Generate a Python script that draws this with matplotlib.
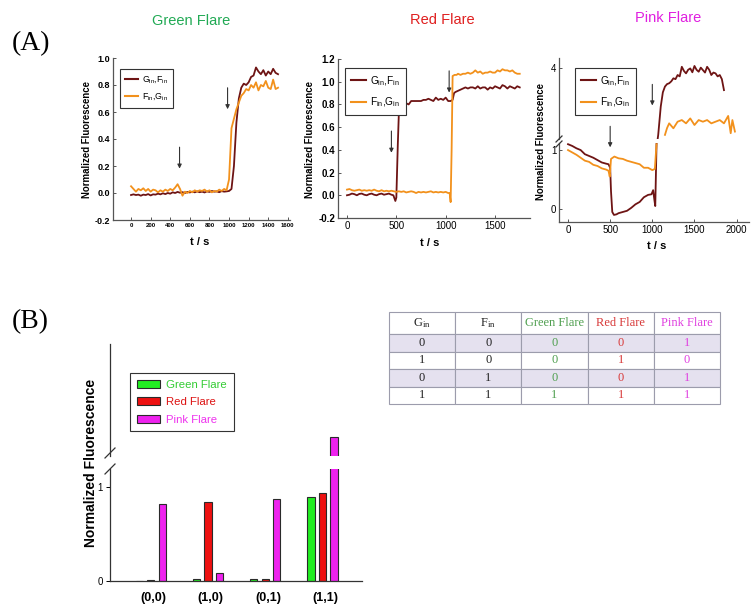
import matplotlib
matplotlib.use('Agg')
import matplotlib.pyplot as plt
from matplotlib.lines import Line2D
from matplotlib.patches import Patch

plt.rcParams['font.family'] = ['Liberation Sans', 'DejaVu Sans']
plt.rcParams['mathtext.default'] = 'regular'

# ---------------- data ----------------
# (A) Green Flare traces
green_t = [0, 25, 50, 75, 100, 125, 150, 175, 200, 225, 250, 275, 300, 325, 350, 375, 400, 425, 450, 475,
           500, 525, 550, 575, 600, 625, 650, 675, 700, 725, 750, 775, 800, 825, 850, 875, 900, 925, 950, 975,
           1000, 1025, 1050, 1075, 1100, 1125, 1150, 1175, 1200, 1225, 1250, 1275, 1300, 1325, 1350, 1375,
           1400, 1425, 1450, 1475, 1500]
green_gf = [-0.015, -0.01, -0.015, -0.012, -0.02, -0.012, -0.015, -0.008, -0.018, -0.01, -0.012, -0.005,
            -0.01, -0.002, -0.008, 0.0, -0.005, 0.005, 0.0, 0.008, 0.002, 0.006, 0.0, 0.008, 0.004, 0.01,
            0.005, 0.012, 0.006, 0.01, 0.004, 0.012, 0.008, 0.015, 0.01, 0.012, 0.006, 0.014, 0.01, 0.012,
            0.015, 0.03, 0.2, 0.52, 0.7, 0.78, 0.81, 0.8, 0.82, 0.86, 0.87, 0.93, 0.9, 0.88, 0.91, 0.87,
            0.9, 0.88, 0.92, 0.89, 0.88]
green_fg = [0.05, 0.03, 0.01, 0.03, 0.02, 0.035, 0.015, 0.03, 0.01, 0.025, 0.02, 0.005, 0.02, 0.01, 0.025,
            0.015, 0.03, 0.02, 0.04, 0.065, 0.03, -0.02, 0.01, 0.0, 0.015, 0.005, 0.02, 0.01, 0.02, 0.015,
            0.025, 0.01, 0.02, 0.005, 0.015, 0.01, 0.025, 0.015, 0.03, 0.02, 0.1, 0.48, 0.55, 0.62, 0.67,
            0.72, 0.74, 0.77, 0.76, 0.8, 0.78, 0.82, 0.76, 0.8, 0.79, 0.83, 0.78, 0.77, 0.84, 0.77, 0.78]

# (A) Red Flare traces
red_t_gf = [0, 25, 50, 75, 100, 125, 150, 175, 200, 225, 250, 275, 300, 325, 350, 375, 400, 425, 450, 470,
            490, 500, 515, 530, 550, 575, 600, 625, 650, 675, 700, 725, 750, 775, 800, 825, 850, 875, 900,
            925, 950, 975, 1000, 1025, 1050, 1070, 1085, 1100, 1125, 1150, 1175, 1200, 1225, 1250, 1275,
            1300, 1325, 1350, 1375, 1400, 1425, 1450, 1475, 1500, 1525, 1550, 1575, 1600, 1625, 1650, 1675,
            1700, 1725, 1750]
red_gf = [0.0, 0.005, 0.015, 0.01, 0.0, 0.012, 0.015, 0.005, 0.0, 0.01, 0.015, 0.005, 0.0, 0.01, 0.015,
          0.005, 0.01, 0.015, 0.005, 0.0, -0.05, -0.02, 0.45, 0.84, 0.8, 0.81, 0.81, 0.8, 0.83, 0.83, 0.83,
          0.83, 0.83, 0.84, 0.84, 0.85, 0.84, 0.83, 0.86, 0.84, 0.85, 0.84, 0.86, 0.83, 0.83, 0.84, 0.9,
          0.91, 0.92, 0.93, 0.94, 0.95, 0.94, 0.95, 0.95, 0.94, 0.96, 0.94, 0.95, 0.95, 0.93, 0.95, 0.94,
          0.96, 0.95, 0.94, 0.97, 0.96, 0.94, 0.96, 0.95, 0.94, 0.96, 0.95]
red_t_fg = [0, 25, 50, 75, 100, 125, 150, 175, 200, 225, 250, 275, 300, 325, 350, 375, 400, 425, 450, 475,
            500, 525, 550, 575, 600, 625, 650, 675, 700, 725, 750, 775, 800, 825, 850, 875, 900, 925, 950,
            975, 1000, 1025, 1040, 1050, 1060, 1070, 1090, 1110, 1125, 1150, 1175, 1200, 1225, 1250, 1275,
            1300, 1325, 1350, 1375, 1400, 1425, 1450, 1475, 1500, 1525, 1550, 1575, 1600, 1625, 1650, 1675,
            1700, 1725, 1750]
red_fg = [0.05, 0.055, 0.045, 0.04, 0.045, 0.05, 0.04, 0.045, 0.04, 0.045, 0.04, 0.05, 0.04, 0.035, 0.045,
          0.035, 0.04, 0.035, 0.04, 0.035, 0.03, 0.035, 0.03, 0.035, 0.025, 0.03, 0.035, 0.03, 0.02, 0.03,
          0.025, 0.03, 0.025, 0.03, 0.035, 0.025, 0.03, 0.025, 0.03, 0.025, 0.03, 0.02, 0.02, -0.06, 0.4,
          1.05, 1.06, 1.06, 1.07, 1.06, 1.07, 1.07, 1.08, 1.07, 1.08, 1.1, 1.08, 1.09, 1.07, 1.08, 1.08,
          1.09, 1.08, 1.08, 1.1, 1.09, 1.11, 1.1, 1.1, 1.09, 1.1, 1.08, 1.07, 1.07]

# (A) Pink Flare traces (broken y axis)
pink_t_gf = [0, 50, 100, 150, 200, 250, 300, 350, 400, 450, 480, 500, 510, 525, 545, 575, 600, 650, 700,
             750, 800, 850, 900, 950, 990, 1010, 1025, 1035, 1050, 1070, 1100, 1125, 1150, 1175, 1200, 1225,
             1250, 1275, 1300, 1325, 1350, 1375, 1400, 1425, 1450, 1475, 1500, 1525, 1550, 1575, 1600, 1625,
             1650, 1675, 1700, 1725, 1750, 1775, 1800, 1825, 1850]
pink_gf = [1.1, 1.07, 1.03, 1.0, 0.93, 0.9, 0.87, 0.83, 0.79, 0.77, 0.76, 0.7, 0.3, -0.05, -0.1, -0.09,
           -0.07, -0.05, -0.03, 0.02, 0.08, 0.12, 0.2, 0.24, 0.25, 0.32, 0.15, 0.05, 1.1, 1.55, 2.58, 3.1,
           3.31, 3.4, 3.43, 3.5, 3.61, 3.58, 3.73, 3.68, 4.03, 3.88, 3.79, 3.92, 3.97, 3.83, 4.06, 3.92,
           3.85, 4.0, 3.91, 3.82, 4.03, 3.92, 3.73, 3.82, 3.79, 3.68, 3.73, 3.58, 3.18]
pink_t_fg = [0, 50, 100, 150, 200, 250, 300, 350, 400, 450, 480, 495, 510, 550, 600, 650, 700, 750, 800,
             850, 900, 950, 1000, 1030, 1050, 1100, 1150, 1175, 1200, 1250, 1300, 1350, 1400, 1450, 1500,
             1550, 1600, 1650, 1700, 1750, 1800, 1850, 1900, 1930, 1950, 1980]
pink_fg = [1.0, 0.96, 0.92, 0.87, 0.82, 0.8, 0.75, 0.73, 0.69, 0.67, 0.65, 0.55, 0.85, 0.89, 0.86, 0.85,
           0.82, 0.8, 0.78, 0.76, 0.7, 0.7, 0.66, 0.68, 1.1, float('nan'), 1.55, 1.8, 1.97, 1.79, 2.03,
           2.09, 1.97, 2.15, 1.91, 2.09, 2.03, 2.09, 1.97, 2.03, 2.09, 1.97, 2.24, 1.61, 2.09, 1.67]

# (B) bar chart
inputs = ['(0,0)', '(1,0)', '(0,1)', '(1,1)']
bar_green = [0.005, 0.02, 0.02, 0.89]
bar_red = [0.01, 0.84, 0.02, 0.94]
bar_pink = [0.82, 0.08, 0.87, 3.85]

# (B) truth table
headers = ['G$_{in}$', 'F$_{in}$', 'Green Flare', 'Red Flare', 'Pink Flare']
g_in = [0, 1, 0, 1]
f_in = [0, 0, 1, 1]
out_green = [0, 0, 0, 1]
out_red = [0, 1, 0, 1]
out_pink = [1, 0, 1, 1]

# ---------------- layout helpers ----------------
W, H = 751, 607
fig = plt.figure(figsize=(W / 100, H / 100), dpi=100)


def box(l, t, r, b):
    return [l / W, 1 - b / H, (r - l) / W, (b - t) / H]


def fxy(x, y):
    return (x / W, 1 - y / H)


DARK = '#6e1414'
ORANGE = '#f2911c'
AX = '#555555'
lab_gf = 'G$_{in}$,F$_{in}$'
lab_fg = 'F$_{in}$,G$_{in}$'


def style(ax):
    for s in ['top', 'right']:
        ax.spines[s].set_visible(False)
    for s in ['left', 'bottom']:
        ax.spines[s].set_color(AX)
        ax.spines[s].set_linewidth(0.9)
    ax.tick_params(direction='in', length=2.5, width=0.7, color=AX, pad=2)


def arrow(ax, x, y0, y1):
    ann = ax.annotate('', xy=(x, y1), xytext=(x, y0), annotation_clip=False,
                      arrowprops=dict(arrowstyle='-|>', color='#333333', lw=0.8, mutation_scale=6))
    ann.arrow_patch.set_clip_on(False)


def legend(ax, x, y, fs, spacing):
    handles = [Line2D([], [], color=DARK, lw=1.5), Line2D([], [], color=ORANGE, lw=1.5)]
    leg = ax.legend(handles, [lab_gf, lab_fg], loc='upper left', bbox_to_anchor=fxy(x, y),
                    bbox_transform=fig.transFigure, fontsize=fs, fancybox=False, edgecolor='#333333',
                    framealpha=1, handlelength=1.5, handletextpad=0.4, borderpad=0.6,
                    labelspacing=spacing, borderaxespad=0)
    leg.get_frame().set_linewidth(0.8)


def slash(x, y, dx=3, dy=3):
    fig.add_artist(Line2D([(x - dx) / W, (x + dx) / W], [1 - (y + dy) / H, 1 - (y - dy) / H],
                          color='#333333', lw=0.9))


# ---------------- (A) Green Flare ----------------
ax1 = fig.add_axes(box(113, 58, 290, 220))
ax1.plot(green_t, green_gf, color=DARK, lw=1.3)
ax1.plot(green_t, green_fg, color=ORANGE, lw=1.3)
ax1.set_xlim(-184, 1622)
ax1.set_ylim(-0.2, 1.0)
ax1.set_xticks(range(0, 1601, 200))
ax1.set_yticks([-0.2, 0.0, 0.2, 0.4, 0.6, 0.8, 1.0])
ax1.set_yticklabels(['%.1f' % v for v in ax1.get_yticks()], fontweight='bold', fontsize=6.5)
ax1.set_xticklabels([str(v) for v in range(0, 1601, 200)], fontweight='bold', fontsize=4.3)
style(ax1)
arrow(ax1, 495, 0.36, 0.16)
arrow(ax1, 985, 0.8, 0.6)
legend(ax1, 120, 69, 6.3, 0.7)

# ---------------- (A) Red Flare ----------------
ax2 = fig.add_axes(box(338, 59, 530, 218))
ax2.plot(red_t_gf, red_gf, color=DARK, lw=1.3)
ax2.plot(red_t_fg, red_fg, color=ORANGE, lw=1.3)
ax2.set_xlim(-91, 1854)
ax2.set_ylim(-0.2, 1.2)
ax2.set_xticks([0, 500, 1000, 1500])
ax2.set_yticks([-0.2, 0.0, 0.2, 0.4, 0.6, 0.8, 1.0, 1.2])
ax2.set_yticklabels(['%.1f' % v for v in ax2.get_yticks()], fontweight='bold', fontsize=7)
ax2.tick_params(axis='x', labelsize=7)
style(ax2)
arrow(ax2, 450, 0.59, 0.35)
arrow(ax2, 1035, 1.12, 0.88)
legend(ax2, 345, 68, 7.3, 0.75)

# ---------------- (A) Pink Flare (broken axis) ----------------
ax3 = fig.add_axes(box(559, 143, 749, 222))
ax3u = fig.add_axes(box(559, 58, 749, 139))
ax3u.patch.set_visible(False)
for a in (ax3, ax3u):
    a.plot(pink_t_gf, pink_gf, color=DARK, lw=1.3)
    a.plot(pink_t_fg, pink_fg, color=ORANGE, lw=1.3)
    a.set_xlim(-107, 2147)
    style(a)
ax3.set_ylim(-0.22, 1.12)
ax3.set_yticks([0, 1])
ax3.set_xticks([0, 500, 1000, 1500, 2000])
ax3.tick_params(labelsize=7)
ax3u.set_ylim(1.4, 4.35)
ax3u.set_yticks([4])
ax3u.tick_params(labelsize=7)
ax3u.set_xticks([])
ax3u.spines['bottom'].set_visible(False)
slash(559, 139)
slash(559, 144)
arrow(ax3, 500, 1.45, 1.0)
arrow(ax3u, 1000, 3.49, 2.52)
legend(ax3u, 575, 68, 7.3, 0.75)

# axis labels & titles for (A)
for x, y in [(87, 139), (310, 139), (541, 141)]:
    fig.text(*fxy(x, y), 'Normalized Fluorescence', rotation=90, ha='center', va='center',
             fontsize=6.9, fontweight='bold')
for x, y in [(200, 242), (430, 243), (657, 246)]:
    fig.text(*fxy(x, y), 't / s', ha='center', va='center', fontsize=8, fontweight='bold')
fig.text(*fxy(191, 21), 'Green Flare', color='#22aa55', ha='center', va='center', fontsize=10.5)
fig.text(*fxy(442, 20), 'Red Flare', color='#e02020', ha='center', va='center', fontsize=10.5)
fig.text(*fxy(668, 18), 'Pink Flare', color='#e020e0', ha='center', va='center', fontsize=10.5)
fig.text(*fxy(12, 44), '(A)', fontsize=20, family='Liberation Serif', va='center')
fig.text(*fxy(12, 322), '(B)', fontsize=20, family='Liberation Serif', va='center')

# ---------------- (B) bar chart (broken axis) ----------------
bx = fig.add_axes(box(110, 469, 362, 581))
bxu = fig.add_axes(box(110, 344, 362, 456))
bxu.patch.set_visible(False)
pos = list(range(len(inputs)))
bar_cols = ['#22ee22', '#ee1111', '#ee22ee']
for a in (bx, bxu):
    for off, vals, col in zip([-0.2, 0.0, 0.2], [bar_green, bar_red, bar_pink], bar_cols):
        a.bar([p + off for p in pos], vals, width=0.125, color=col, edgecolor='#2a2a2a', linewidth=0.8)
    a.set_xlim(-0.71, 3.69)
    for s in ['top', 'right']:
        a.spines[s].set_visible(False)
    for s in ['left', 'bottom']:
        a.spines[s].set_color('#333333')
        a.spines[s].set_linewidth(0.9)
bx.set_ylim(0, 1.19)
bx.set_yticks([0, 1])
bx.tick_params(axis='y', direction='out', length=3, width=0.7, labelsize=7, pad=2)
bx.set_xticks([p + 0.05 for p in pos])
bx.set_xticklabels(inputs, fontweight='bold', fontsize=9)
bx.tick_params(axis='x', length=0, pad=8)
bxu.set_ylim(3.0, 8.0)
bxu.set_xticks([])
bxu.set_yticks([])
bxu.spines['bottom'].set_visible(False)
slash(110, 453, 5, 5)
slash(110, 469, 5, 5)
fig.text(*fxy(91, 463), 'Normalized Fluorescence', rotation=90, ha='center', va='center',
         fontsize=10, fontweight='bold')

leg_b = bxu.legend([Patch(facecolor=c, edgecolor='#2a2a2a', linewidth=0.8) for c in bar_cols],
                   ['Green Flare', 'Red Flare', 'Pink Flare'], loc='upper left',
                   bbox_to_anchor=fxy(130, 373), bbox_transform=fig.transFigure, fontsize=8.2,
                   fancybox=False, edgecolor='#333333', framealpha=1, handlelength=2.0,
                   handleheight=0.7, handletextpad=0.6, borderpad=0.6, labelspacing=0.65,
                   borderaxespad=0)
leg_b.get_frame().set_linewidth(0.8)
for txt, c in zip(leg_b.get_texts(), ['#33cc33', '#dd1111', '#ee33ee']):
    txt.set_color(c)

# ---------------- (B) truth table ----------------
tx = fig.add_axes(box(389, 312, 720, 404))
tx.axis('off')
cells = [[str(a), str(b), str(c), str(d), str(e)]
         for a, b, c, d, e in zip(g_in, f_in, out_green, out_red, out_pink)]
col_text = ['#222222', '#222222', '#4f9f4f', '#d83a3a', '#e040e0']
tbl = tx.table(cellText=cells, colLabels=headers, cellLoc='center', bbox=[0, 0, 1, 1])
tbl.auto_set_font_size(False)
for (r, c), cell in tbl.get_celld().items():
    cell.set_edgecolor('#9c9cac')
    cell.set_linewidth(0.8)
    cell.set_height(22 if r == 0 else 17.5)
    t = cell.get_text()
    t.set_fontsize(9)
    t.set_fontfamily('Liberation Serif')
    t.set_color(col_text[c])
    if r in (1, 3):
        cell.set_facecolor('#e5e1ef')

fig.savefig('out.png', dpi=100)
